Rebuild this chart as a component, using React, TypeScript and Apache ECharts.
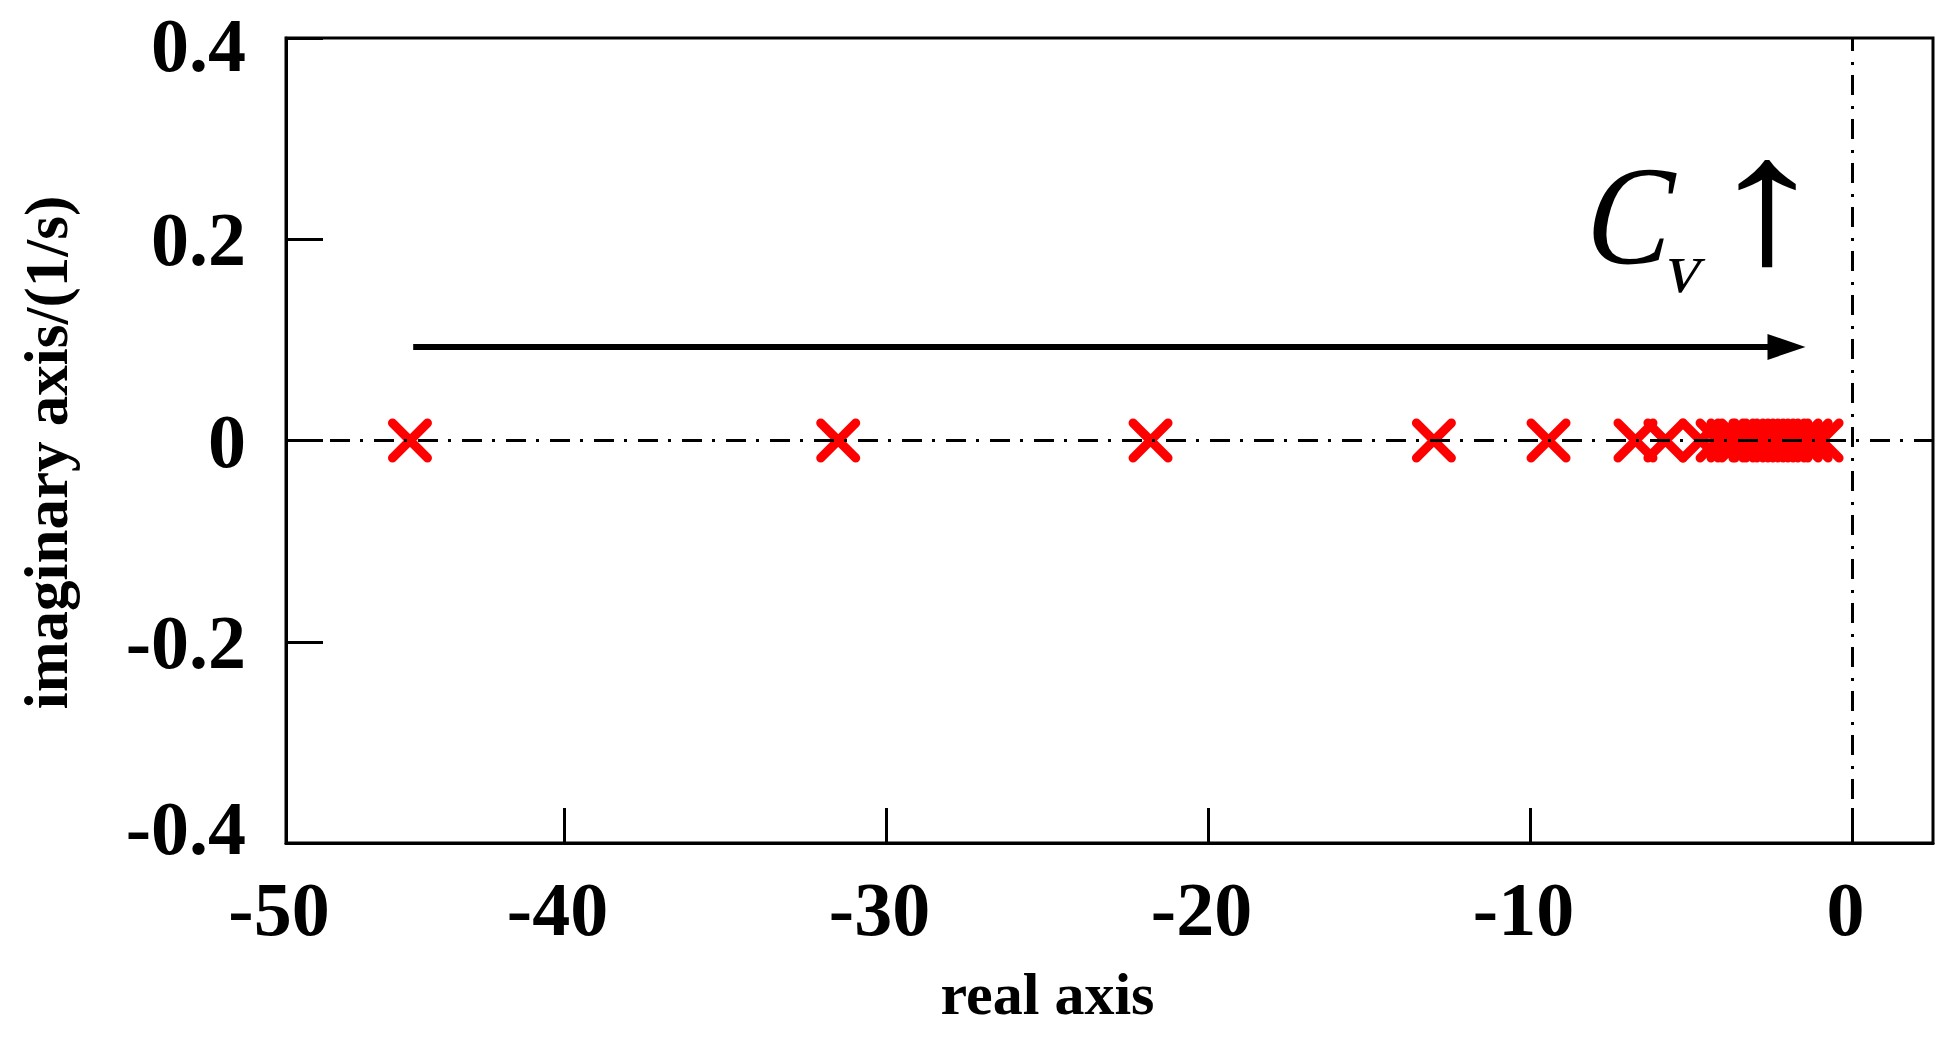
import React, { useEffect, useRef } from "react";
import * as echarts from "echarts";

// ---- data ----
const realParts: number[] = [
  -44.8, -31.5, -21.8, -13.0, -9.44, -6.74, -5.81, -4.72, -4.19, -3.85, -3.51,
  -3.17, -2.86, -2.55, -2.24, -1.93, -1.61, -1.3, -0.96,
];
const imagParts: number[] = [
  0, 0, 0, 0, 0, 0, 0, 0, 0, 0, 0, 0, 0, 0, 0, 0, 0, 0, 0,
];

const X_MIN = -48.65;
const X_MAX = 2.5;
const xTickValues = [-40, -30, -20, -10, 0];
const xLabelValues = [X_MIN, -40, -30, -20, -10, 0];
const xLabelTexts = ["-50", "-40", "-30", "-20", "-10", "0"];

const Y_MIN = -0.4;
const Y_MAX = 0.4;
const Y_STEP = 0.2;

// arrow annotation (data coordinates)
const arrowFrom: [number, number] = [-44.7, 0.093];
const arrowTo: [number, number] = [-2.05, 0.093];

const SERIF = "Liberation Serif";

export default function App() {
  const ref = useRef<HTMLDivElement>(null);

  useEffect(() => {
    if (!ref.current) return;
    const chart = echarts.init(ref.current, null, { renderer: "svg" });

    const labelStyle = {
      fontFamily: SERIF,
      fontSize: 76,
      fontWeight: "bold" as const,
      color: "#000",
    };

    const option: any = {
      animation: false,
      backgroundColor: "#fff",
      grid: {
        left: 286,
        right: 23,
        top: 38,
        bottom: 195,
        show: true,
        borderColor: "#000",
        borderWidth: 3,
        backgroundColor: "transparent",
      },
      xAxis: {
        type: "value",
        min: X_MIN,
        max: X_MAX,
        splitLine: { show: false },
        axisLine: { show: true, onZero: false, lineStyle: { color: "#000", width: 3 } },
        axisTick: {
          show: true,
          inside: true,
          length: 35,
          customValues: xTickValues,
          lineStyle: { color: "#000", width: 3 },
        },
        axisLabel: {
          ...labelStyle,
          margin: 28,
          padding: [0, 14, 0, 0],
          customValues: xLabelValues,
          formatter: (v: number) => {
            const i = xLabelValues.findIndex((x) => Math.abs(x - v) < 1e-6);
            return i >= 0 ? xLabelTexts[i] : "";
          },
        },
        name: "real axis",
        nameLocation: "middle",
        nameGap: 121,
        nameTextStyle: {
          fontFamily: SERIF,
          fontSize: 60,
          fontWeight: "bold",
          color: "#000",
          padding: [0, 124, 0, 0],
        },
      },
      yAxis: {
        type: "value",
        min: Y_MIN,
        max: Y_MAX,
        interval: Y_STEP,
        splitLine: { show: false },
        axisLine: { show: true, onZero: false, lineStyle: { color: "#000", width: 3 } },
        axisTick: {
          show: true,
          inside: true,
          length: 37,
          lineStyle: { color: "#000", width: 3 },
        },
        axisLabel: {
          ...labelStyle,
          margin: 40,
          formatter: (v: number) => {
            const r = Math.round(v * 10) / 10;
            const s = r === 0 ? "0" : String(r);
            if (Math.abs(r - Y_MAX) < 1e-6) return "{t|" + s + "}";
            if (Math.abs(r - Y_MIN) < 1e-6) return "{b|" + s + "}";
            return "{n|" + s + "}";
          },
          rich: {
            n: { ...labelStyle },
            t: { ...labelStyle, padding: [14, 0, 0, 0] },
            b: { ...labelStyle, padding: [0, 0, 30, 0] },
          },
        },
        name: "imaginary axis/(1/s)",
        nameLocation: "middle",
        nameGap: 209,
        nameTextStyle: {
          fontFamily: SERIF,
          fontSize: 61,
          fontWeight: "bold",
          color: "#000",
          padding: [0, 24, 0, 0],
        },
      },
      series: [
        {
          type: "scatter",
          data: [],
          z: 1,
          silent: true,
          markLine: {
            silent: true,
            symbol: ["none", "none"],
            label: { show: false },
            lineStyle: { color: "#000", width: 3, type: [20, 10, 3, 11] },
            data: [{ xAxis: 0 }, { yAxis: 0 }],
          },
        },
        {
          type: "scatter",
          data: [],
          z: 2,
          silent: true,
          markLine: {
            silent: true,
            symbol: ["none", "triangle"],
            symbolSize: [26, 38],
            label: { show: false },
            lineStyle: { color: "#000", width: 6, type: "solid" },
            itemStyle: { color: "#000" },
            data: [[{ coord: arrowFrom }, { coord: arrowTo }]],
          },
        },
        {
          type: "scatter",
          z: 3,
          symbol: "path://M0,0L10,10M10,0L0,10",
          symbolSize: 35,
          itemStyle: {
            color: "#ff0000",
            borderColor: "#ff0000",
            borderWidth: 9,
            borderCap: "round",
            opacity: 1,
          },
          data: realParts.map((x, i) => [x, imagParts[i]]),
        },
      ],
      graphic: [
        {
          type: "text",
          x: 1580,
          y: 263,
          skewX: -0.22,
          scaleY: 1.1,
          style: {
            text: "C",
            fontFamily: SERIF,
            fontSize: 128,
            fill: "#000",
            textAlign: "left",
            textVerticalAlign: "middle",
            y: -43,
          },
        },
        {
          type: "text",
          x: 1662,
          y: 292,
          skewX: -0.22,
          style: {
            text: "v",
            fontFamily: SERIF,
            fontSize: 72,
            fill: "#000",
            textAlign: "left",
            textVerticalAlign: "middle",
            y: -24,
          },
        },
        {
          type: "text",
          x: 1767,
          y: 201,
          scaleX: 1.35,
          style: {
            text: "↑",
            fontFamily: SERIF,
            fontSize: 181,
            fill: "#000",
            textAlign: "center",
            textVerticalAlign: "middle",
          },
        },
      ],
    };

    chart.setOption(option);
    return () => chart.dispose();
  }, []);

  return (
    <div
      ref={ref}
      style={{ position: "fixed", left: 0, top: 0, width: 1956, height: 1038, background: "#fff" }}
    />
  );
}
